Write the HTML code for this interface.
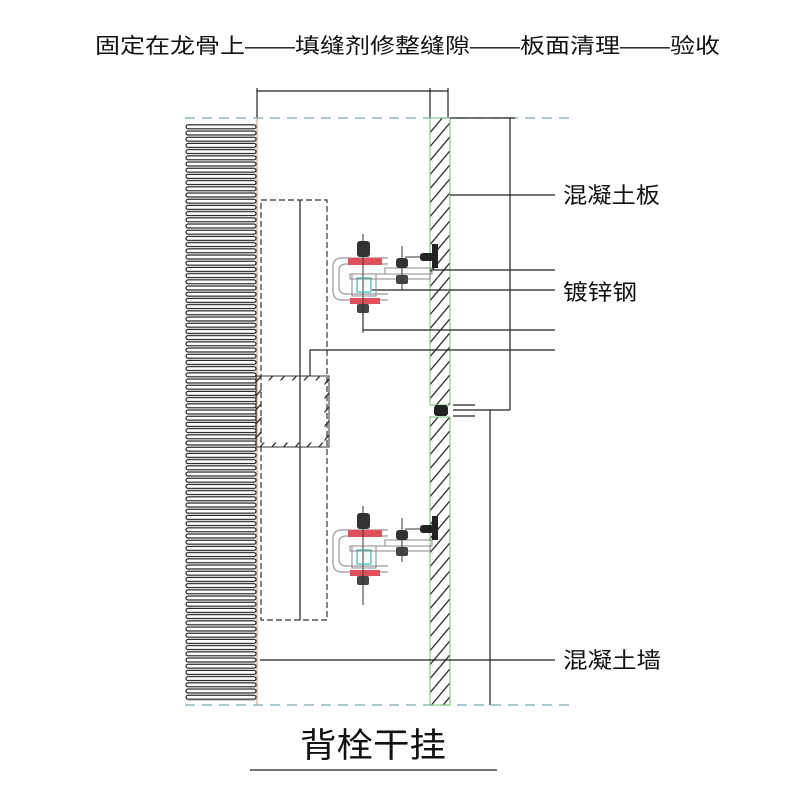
<!DOCTYPE html>
<html><head><meta charset="utf-8"><style>
html,body{margin:0;padding:0;background:#fff;}
svg{display:block}
text{font-family:"Liberation Sans","Noto Sans CJK SC",sans-serif;fill:#111}
</style></head><body>
<svg width="800" height="800" viewBox="0 0 800 800" xmlns="http://www.w3.org/2000/svg">
<defs>
<pattern id="hatch" width="9" height="9" patternUnits="userSpaceOnUse" patternTransform="rotate(40)">
<line x1="0" y1="0" x2="0" y2="9" stroke="#222" stroke-width="2.5"/>
</pattern>
<pattern id="coil" x="185" y="124" width="72" height="6.2" patternUnits="userSpaceOnUse">
<rect x="1" y="0.8" width="70" height="4" rx="2" fill="none" stroke="#222" stroke-width="1.2"/>
</pattern>
<g id="brk">
<path d="M388,0 H342 Q333,0 333,9 V33 Q333,42 342,42 H388" fill="none" stroke="#999" stroke-width="1.2"/>
<path d="M388,6 H346 Q339,6 339,13 V29 Q339,36 346,36 H388" fill="none" stroke="#999" stroke-width="1.2"/>
<rect x="348" y="0" width="34" height="7" fill="#e0505a"/>
<rect x="350" y="40" width="30" height="6" fill="#e0505a"/>
<rect x="357" y="-17" width="13" height="16" rx="3" fill="#333"/>
<rect x="357" y="46" width="12" height="9" rx="2" fill="#444"/>
<line x1="363" y1="-24" x2="363" y2="75" stroke="#333" stroke-width="1"/>
<rect x="352" y="16" width="24" height="22" fill="none" stroke="#888"/>
<rect x="357" y="20" width="14" height="14" fill="none" stroke="#3bb" stroke-width="1.2"/>
<rect x="350" y="16" width="80" height="5" fill="none" stroke="#888"/>
<rect x="385" y="10" width="47" height="6" fill="none" stroke="#888"/>
<rect x="396" y="0" width="12" height="10" rx="3" fill="#333"/>
<rect x="396" y="17" width="12" height="9" rx="2" fill="#444"/>
<line x1="402" y1="-12" x2="402" y2="32" stroke="#333"/>
<rect x="432" y="-14" width="6" height="24" fill="#222"/>
<rect x="420" y="-5" width="14" height="8" rx="3" fill="#222"/>
<line x1="405" y1="-1" x2="420" y2="-1" stroke="#333"/>
</g>
</defs>
<text x="95" y="53" font-size="21" textLength="625" lengthAdjust="spacingAndGlyphs">固定在龙骨上——填缝剂修整缝隙——板面清理——验收</text>
<g stroke="#222" stroke-width="1.2">
<line x1="257" y1="91" x2="448" y2="91"/>
<line x1="257" y1="88" x2="257" y2="118"/>
<line x1="430" y1="88" x2="430" y2="118"/>
<line x1="448" y1="88" x2="448" y2="118"/>
</g>
<g stroke="#7ab" stroke-width="1.3" stroke-dasharray="10,7">
<line x1="185" y1="118" x2="570" y2="118"/>
<line x1="185" y1="705" x2="570" y2="705"/>
</g>
<rect x="185" y="124" width="72" height="577" fill="url(#coil)"/>
<line x1="257" y1="118" x2="257" y2="705" stroke="#c96" stroke-width="1"/>
<rect x="261" y="200" width="66" height="420" fill="none" stroke="#333" stroke-width="1.2" stroke-dasharray="6,3"/>
<line x1="300" y1="200" x2="300" y2="620" stroke="#222" stroke-width="1.2"/>
<rect x="259" y="378" width="68" height="67" fill="none" stroke="url(#hatch)" stroke-width="5"/>
<rect x="256" y="376" width="73" height="71" fill="none" stroke="#333" stroke-width="1"/>
<rect x="430" y="118" width="20" height="287" fill="url(#hatch)" stroke="#8c8" stroke-width="1.2"/>
<rect x="430" y="417" width="20" height="288" fill="url(#hatch)" stroke="#8c8" stroke-width="1.2"/>
<rect x="434" y="405" width="14" height="11" rx="3" fill="#222"/>
<g stroke="#222" stroke-width="1.2" fill="none">
<line x1="453" y1="405" x2="475" y2="405"/><line x1="453" y1="410" x2="510" y2="410"/><line x1="453" y1="416" x2="475" y2="416"/>
<line x1="510" y1="118" x2="510" y2="410"/>
<line x1="490" y1="410" x2="490" y2="705"/>
<line x1="450" y1="118" x2="515" y2="118"/>
<line x1="450" y1="195" x2="555" y2="195"/>
<line x1="430" y1="270" x2="555" y2="270"/>
<line x1="372" y1="290" x2="555" y2="290"/>
<polyline points="363,310 363,330 555,330"/>
<polyline points="310,376 310,350 555,350"/>
<line x1="260" y1="660" x2="555" y2="660"/>
</g>
<use href="#brk" transform="translate(0,258)"/>
<use href="#brk" transform="translate(0,530)"/>
<text x="563" y="203" font-size="22" textLength="97" lengthAdjust="spacingAndGlyphs">混凝土板</text>
<text x="563" y="300" font-size="22" textLength="74" lengthAdjust="spacingAndGlyphs">镀锌钢</text>
<text x="563" y="668" font-size="22" textLength="98" lengthAdjust="spacingAndGlyphs">混凝土墙</text>
<text x="300" y="757" font-size="34" textLength="146" lengthAdjust="spacingAndGlyphs">背栓干挂</text>
<line x1="250" y1="770" x2="497" y2="770" stroke="#222" stroke-width="1.2"/>
</svg>
</body></html>
